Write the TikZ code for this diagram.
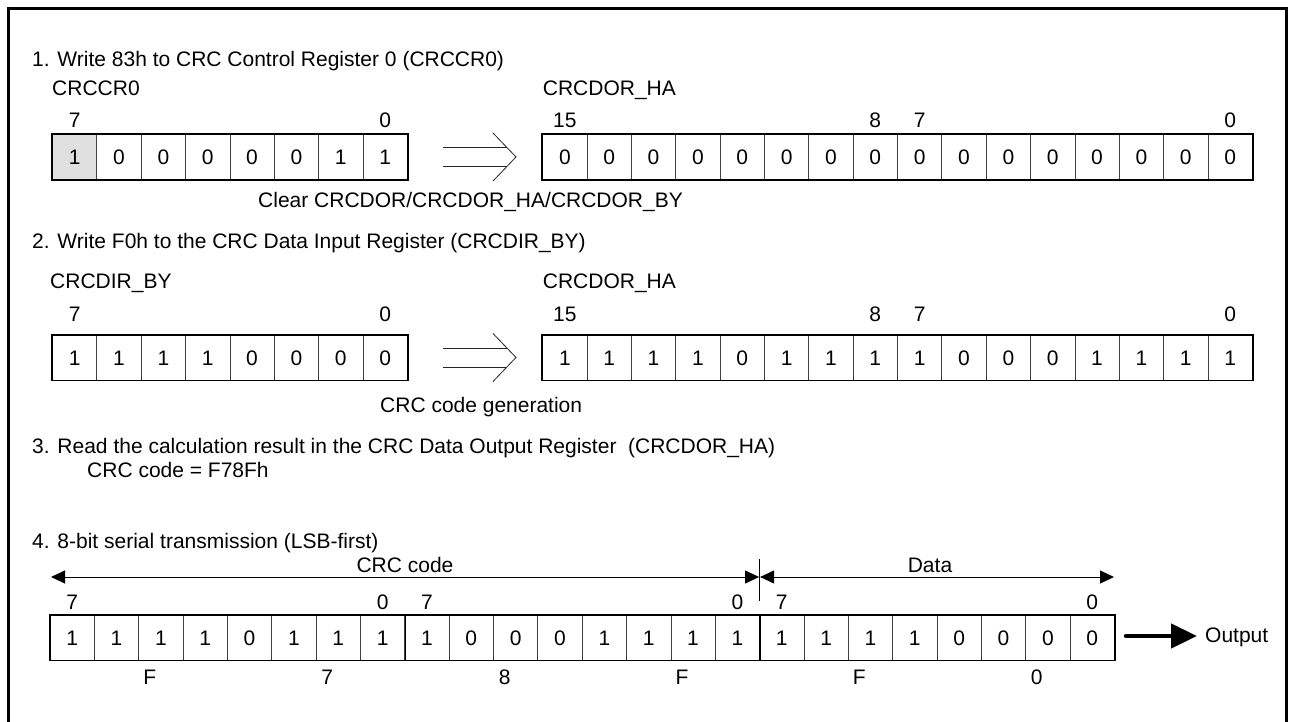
\documentclass[tikz,border=0pt]{standalone}
\usepackage{fontspec}
\setmainfont{Liberation Sans}
\usetikzlibrary{arrows.meta}
\newcommand\myfs{\fontsize{21}{25}\selectfont}
\tikzset{
  lbl/.style={inner sep=0pt, text height=15pt, text depth=0pt, font=\myfs},
  cell/.style={draw=black!75, line width=0.8pt, minimum width=44.35pt, minimum height=45pt,
               inner sep=0pt, text height=15pt, text depth=0pt, font=\myfs},
  regbox/.style={draw=black, line width=1.8pt},
  bytesep/.style={draw=black, line width=1.4pt},
  dblarrow/.style={line width=0.8pt, draw=black!85},
  dimarrow/.style={line width=1pt, {Triangle[length=14pt,width=13pt]}-{Triangle[length=14pt,width=13pt]}},
  outarrow/.style={line width=4.5pt, line cap=round, -{Triangle[length=26pt,width=24pt]}},
  frame/.style={line width=3pt},
}
\begin{document}
\begin{tikzpicture}[x=1pt,y=-1pt]
\useasboundingbox (0,0) rectangle (1293,722);
\fill[white] (0,0) rectangle (1293,722);
\draw[frame] (8.5,722) -- (8.5,8.5) -- (1286.5,8.5) -- (1286.5,722);

% ---------- Step 1 ----------
\node[lbl, anchor=west] (t1) at (32,59) {1. Write 83h to CRC Control Register 0 (CRCCR0)};
\node[lbl, anchor=west] (l1a) at (52,88) {CRCCR0};
\node[lbl, anchor=west] (l1b) at (542.7,88) {CRCDOR\_HA};
\foreach \v [count=\i] in {1,0,0,0,0,0,1,1} {
  \node[cell] (a\i) at ({52.5+(\i-0.5)*44.35},157) {\v};
}
\fill[black!12] (a1.north west) rectangle (a1.south east);
\node[cell] (a1) at ({52.5+0.5*44.35},157) {1};
\draw[regbox] (a1.north west) rectangle (a8.south east);
\node[lbl] (a1b) at (a1 |- 0,120) {7};
\node[lbl] (a8b) at (a8 |- 0,120) {0};
\foreach \i in {1,...,16} {
  \node[cell] (b\i) at ({542.7+(\i-0.5)*44.35},157) {0};
}
\draw[regbox] (b1.north west) rectangle (b16.south east);
\node[lbl] (b1b) at (b1 |- 0,120) {15};
\node[lbl] (b8b) at (b8 |- 0,120) {8};
\node[lbl] (b9b) at (b9 |- 0,120) {7};
\node[lbl] (b16b) at (b16 |- 0,120) {0};
\coordinate (p1a) at (443,147.5); \coordinate (p1b) at (506.5,147.5);
\coordinate (p1c) at (443,166.5); \coordinate (p1d) at (506.5,166.5);
\coordinate (p1t) at (493,133); \coordinate (p1m) at (516,157); \coordinate (p1u) at (493,181);
\draw[dblarrow] (p1a) -- (p1b);
\draw[dblarrow] (p1c) -- (p1d);
\draw[dblarrow] (p1t) -- (p1m) -- (p1u);
\node[lbl, anchor=west] (clr) at (258,200) {Clear CRCDOR/CRCDOR\_HA/CRCDOR\_BY};

% ---------- Step 2 ----------
\node[lbl, anchor=west] (t2) at (32,241) {2. Write F0h to the CRC Data Input Register (CRCDIR\_BY)};
\node[lbl, anchor=west] (l2a) at (50,281) {CRCDIR\_BY};
\node[lbl, anchor=west] (l2b) at (542.7,281) {CRCDOR\_HA};
\foreach \v [count=\i] in {1,1,1,1,0,0,0,0} {
  \node[cell] (c\i) at ({52.5+(\i-0.5)*44.35},357.5) {\v};
}
\draw[regbox] (c1.north west) rectangle (c8.south east);
\node[lbl] (c1b) at (c1 |- 0,314) {7};
\node[lbl] (c8b) at (c8 |- 0,314) {0};
\foreach \v [count=\i] in {1,1,1,1,0,1,1,1,1,0,0,0,1,1,1,1} {
  \node[cell] (d\i) at ({542.7+(\i-0.5)*44.35},357.5) {\v};
}
\draw[regbox] (d1.north west) rectangle (d16.south east);
\node[lbl] (d1b) at (d1 |- 0,314) {15};
\node[lbl] (d8b) at (d8 |- 0,314) {8};
\node[lbl] (d9b) at (d9 |- 0,314) {7};
\node[lbl] (d16b) at (d16 |- 0,314) {0};
\coordinate (p2a) at (443,348); \coordinate (p2b) at (506.5,348);
\coordinate (p2c) at (443,367); \coordinate (p2d) at (506.5,367);
\coordinate (p2t) at (493,333.5); \coordinate (p2m) at (516,357.5); \coordinate (p2u) at (493,381.5);
\draw[dblarrow] (p2a) -- (p2b);
\draw[dblarrow] (p2c) -- (p2d);
\draw[dblarrow] (p2t) -- (p2m) -- (p2u);
\node[lbl, anchor=west] (gen) at (380,405) {CRC code generation};

% ---------- Step 3 ----------
\node[lbl, anchor=west] (t3) at (32,446) {3. Read the calculation result in the CRC Data Output Register\ \ (CRCDOR\_HA)};
\node[lbl, anchor=west] (t3b) at (87,470) {CRC code = F78Fh};

% ---------- Step 4 ----------
\node[lbl, anchor=west] (t4) at (32,541) {4. 8-bit serial transmission (LSB-first)};
\foreach \v [count=\i] in {1,1,1,1,0,1,1,1,1,0,0,0,1,1,1,1,1,1,1,1,0,0,0,0} {
  \node[cell] (e\i) at ({50+(\i-0.5)*44.35},637.5) {\v};
}
\draw[bytesep] (e8.north east) -- (e8.south east);
\draw[bytesep] (e16.north east) -- (e16.south east);
\draw[regbox] (e1.north west) rectangle (e24.south east);
\node[lbl] (e1b) at (e1 |- 0,601.5) {7};
\node[lbl] (e8b) at (e8 |- 0,601.5) {0};
\node[lbl] (e9b) at (e9 |- 0,601.5) {7};
\node[lbl] (e16b) at (e16 |- 0,601.5) {0};
\node[lbl] (e17b) at (e17 |- 0,601.5) {7};
\node[lbl] (e24b) at (e24 |- 0,601.5) {0};
\node[lbl] (h1) at (149.8,677) {F};
\node[lbl] (h2) at (327.2,677) {7};
\node[lbl] (h3) at (504.6,677) {8};
\node[lbl] (h4) at (682.0,677) {F};
\node[lbl] (h5) at (859.4,677) {F};
\node[lbl] (h6) at (1036.8,677) {0};

\coordinate (crcL) at (51,577);
\coordinate (crcR) at (759.1,577);
\coordinate (datL) at (760.1,577);
\coordinate (datR) at (1114,577);
\coordinate (divT) at (759.6,559);
\coordinate (divB) at (759.6,601);
\draw[dimarrow] (crcL) -- (crcR);
\draw[dimarrow] (datL) -- (datR);
\draw[line width=0.8pt] (divT) -- (divB);
\node[lbl] (crclbl) at (405,565) {CRC code};
\node[lbl] (datlbl) at (930,565) {Data};

\coordinate (outS) at (1126,636);
\node[lbl, anchor=west] (out) at (1205,635) {Output};
\draw[outarrow] (outS) -- (1197,636);
\end{tikzpicture}
\end{document}
